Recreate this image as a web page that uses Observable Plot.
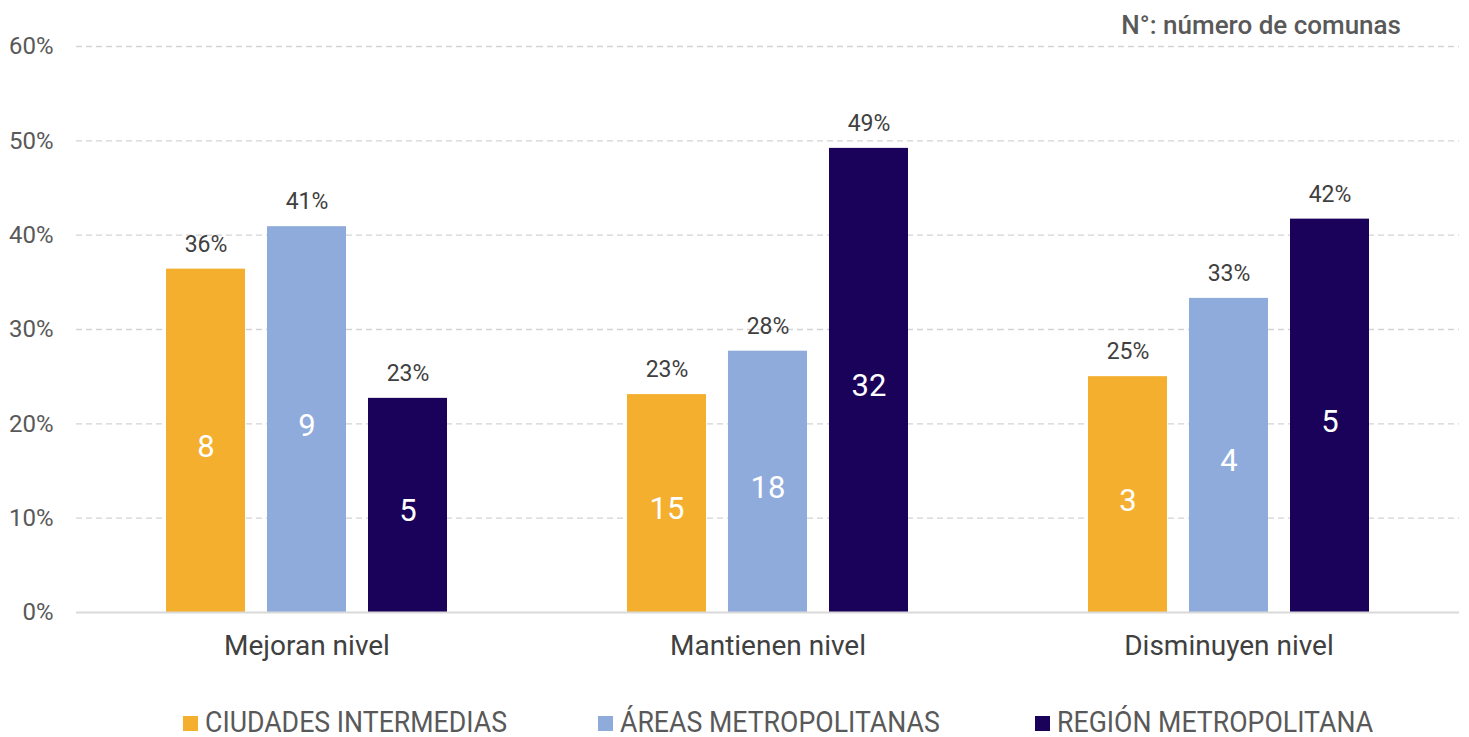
<!DOCTYPE html>
<html>
<head>
<meta charset="utf-8">
<script src="https://cdn.jsdelivr.net/npm/d3@7"></script>
<script src="https://cdn.jsdelivr.net/npm/@observablehq/plot@0.6"></script>
<style>
  html, body { margin: 0; padding: 0; background: #fff; }
  body { width: 1469px; height: 737px; overflow: hidden; font-family: Roboto, sans-serif; position: relative; }
  #note { position: absolute; right: 68px; top: 9px; font-size: 26px; color: #595959; font-weight: 500; white-space: nowrap; line-height: 32px; }
  #legend { position: relative; height: 47px; }
  .item { position: absolute; top: 17px; display: flex; align-items: center; }
  .sw { width: 15px; height: 15px; margin-right: 7px; margin-top: 2px; }
  .lbl { font-size: 30px; color: #595959; transform: scaleX(0.89); transform-origin: left center; white-space: nowrap; line-height: 30px; }
</style>
</head>
<body>
<div id="chart"></div>
<div id="legend"></div>
<div id="note"></div>
<script>
const categories = ["Mejoran nivel", "Mantienen nivel", "Disminuyen nivel"];
const series = ["CIUDADES INTERMEDIAS", "ÁREAS METROPOLITANAS", "REGIÓN METROPOLITANA"];
const colors = ["#F4AF2F", "#8FABDC", "#1A025A"];
const ciudadesPct = [36.4, 23.1, 25.0];
const areasPct = [40.9, 27.7, 33.3];
const regionPct = [22.7, 49.2, 41.7];
const ciudadesN = [8, 15, 3];
const areasN = [9, 18, 4];
const regionN = [5, 32, 5];
const yTicks = [0, 10, 20, 30, 40, 50, 60];
const note = "N°: número de comunas";

const pcts = [ciudadesPct, areasPct, regionPct];
const counts = [ciudadesN, areasN, regionN];
const data = [];
categories.forEach((c, i) => {
  series.forEach((s, j) => {
    data.push({cat: c, serie: s, pct: pcts[j][i], n: counts[j][i]});
  });
});

const chart = Plot.plot({
  width: 1469,
  height: 690,
  marginLeft: 75,
  marginRight: 9,
  marginTop: 46,
  marginBottom: 78,
  style: {fontFamily: "Roboto, sans-serif", background: "#fff"},
  fx: {domain: categories, padding: 0, label: null},
  x: {domain: series, paddingInner: 0.216, paddingOuter: 0.87, axis: null},
  y: {domain: [0, 60], label: null},
  color: {domain: series, range: colors},
  marks: [
    Plot.ruleY(yTicks.filter(d => d > 0), {stroke: "#d4d4d4", strokeWidth: 1.3, strokeDasharray: "6,4"}),
    Plot.barY(data, {fx: "cat", x: "serie", y: "pct", fill: "serie"}),
    Plot.ruleY([0], {stroke: "#d9d9d9", strokeWidth: 2}),
    Plot.text(data, {fx: "cat", x: "serie", y: "pct", text: d => Math.round(d.pct) + "%", dy: -25, fontSize: 23, fontWeight: 400, fill: "#404040"}),
    Plot.text(data, {fx: "cat", x: "serie", y: d => d.pct / 2, text: d => String(d.n), dy: 6, fontSize: 31, fontWeight: 400, fill: "#fff"}),
    Plot.axisY({ticks: yTicks, tickFormat: d => d + "%", tickSize: 0, tickPadding: 23, fontSize: 24, fill: "#595959", label: null}),
    Plot.axisFx({anchor: "bottom", tickSize: 0, tickPadding: 23, fontSize: 28, fill: "#404040", label: null})
  ]
});
document.getElementById("chart").appendChild(chart);
document.getElementById("note").textContent = note;

const legend = document.getElementById("legend");
const lefts = [183, 598, 1035];
series.forEach((s, i) => {
  const it = document.createElement("div");
  it.className = "item";
  it.style.left = lefts[i] + "px";
  const sw = document.createElement("div");
  sw.className = "sw";
  sw.style.background = colors[i];
  const lb = document.createElement("div");
  lb.className = "lbl";
  lb.textContent = s;
  it.appendChild(sw);
  it.appendChild(lb);
  legend.appendChild(it);
});
</script>
</body>
</html>
